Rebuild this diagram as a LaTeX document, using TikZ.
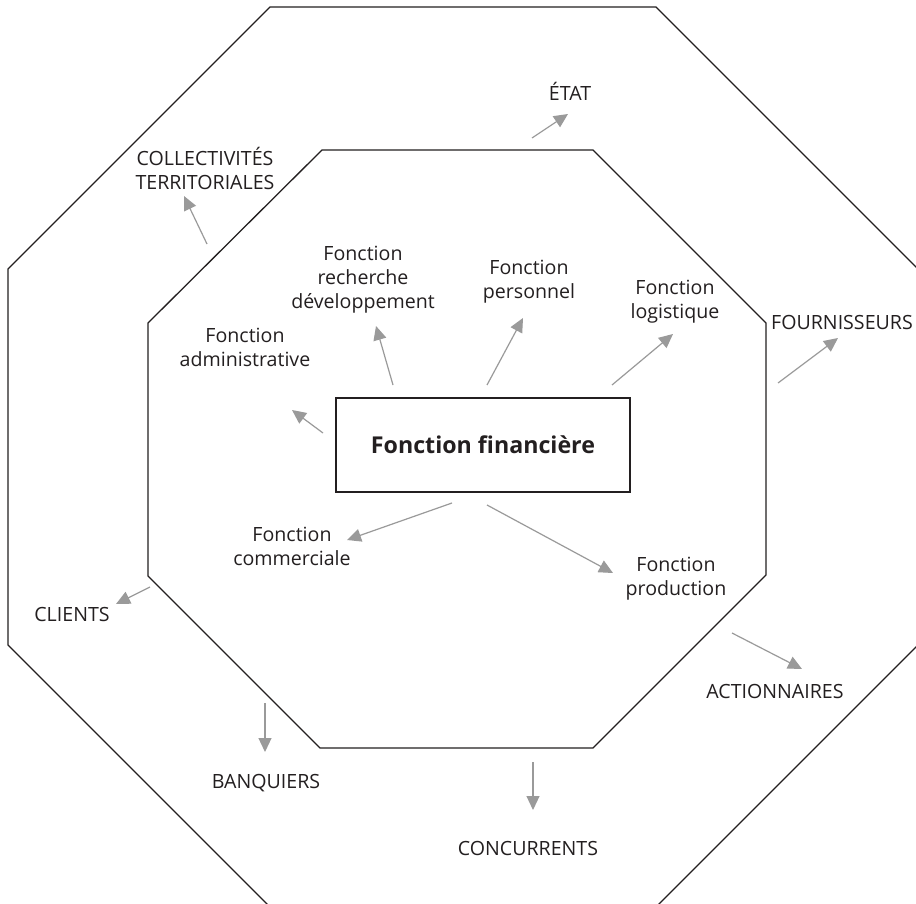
\documentclass[tikz,border=0pt]{standalone}
\usepackage{fontspec}
\setmainfont{Open Sans}
\usetikzlibrary{arrows.meta}
\definecolor{ink}{HTML}{231F20}
\definecolor{arrowgray}{HTML}{9A9A9A}
\begin{document}
\begin{tikzpicture}[x=0.5pt,y=-0.5pt,
  frame/.style={draw=ink, line width=0.65pt, line join=miter},
  flow/.style={draw=arrowgray, line width=0.6pt, -{Triangle[length=7pt,width=6.5pt]}},
  lbl/.style={text=ink, font=\fontsize{9.8}{12}\selectfont, align=center, inner sep=0pt},
  title/.style={draw=ink, line width=0.8pt, text=ink, font=\bfseries\fontsize{11.6}{14}\selectfont, minimum width=147pt, minimum height=47pt, inner sep=0pt}]
\useasboundingbox (0,0) rectangle (916,904);
\fill[white] (0,0) rectangle (916,904);
\begin{scope}
\clip (0,0) rectangle (916,904);
\draw[frame] (270,7) -- (656,7) -- (918,269) -- (918,645) -- (656,907) -- (270,907) -- (8,645) -- (8,269) -- cycle;
\end{scope}
\draw[frame] (322,150) -- (593,150) -- (766,323) -- (766,575) -- (593,748) -- (320,748) -- (148,576) -- (148,323) -- cycle;

\node[title] (fin) at (483,445) {Fonction financière};

% inner labels
\node[lbl] (adm) at (245,350) {Fonction\strut\\administrative\strut};
\node[lbl] (rech) at (363,280) {Fonction\strut\\recherche\strut\\développement\strut};
\node[lbl] (pers) at (529,282) {Fonction\strut\\personnel\strut};
\node[lbl] (logi) at (675,302) {Fonction\strut\\logistique\strut};
\node[lbl] (comm) at (292,549) {Fonction\strut\\commerciale\strut};
\node[lbl] (prod) at (676,579) {Fonction\strut\\production\strut};

% outer labels
\node[lbl] (etat) at (570,95) {ÉTAT\strut};
\node[lbl] (coll) at (205,172) {COLLECTIVITÉS\strut\\TERRITORIALES\strut};
\node[lbl] (four) at (842,325) {FOURNISSEURS\strut};
\node[lbl] (cli) at (72,617) {CLIENTS\strut};
\node[lbl] (banq) at (266,784) {BANQUIERS\strut};
\node[lbl] (conc) at (528,851) {CONCURRENTS\strut};
\node[lbl] (act) at (775,694) {ACTIONNAIRES\strut};

% arrow end points
\coordinate (admA) at (323,433);  \coordinate (admB) at (292,410);
\coordinate (rechA) at (393,385); \coordinate (rechB) at (376,326);
\coordinate (persA) at (487,385); \coordinate (persB) at (523,318);
\coordinate (logiA) at (612,385); \coordinate (logiB) at (673,334);
\coordinate (commA) at (452,503); \coordinate (commB) at (347,540);
\coordinate (prodA) at (487,505); \coordinate (prodB) at (613,573);
\coordinate (etatA) at (532,138); \coordinate (etatB) at (568,114);
\coordinate (collA) at (207,244); \coordinate (collB) at (184,196);
\coordinate (fourA) at (778,383); \coordinate (fourB) at (838,338);
\coordinate (cliA) at (150,587);  \coordinate (cliB) at (116,604);
\coordinate (banqA) at (265,703); \coordinate (banqB) at (265,752);
\coordinate (concA) at (533,762); \coordinate (concB) at (533,810);
\coordinate (actA) at (732,633);  \coordinate (actB) at (802,669);

\draw[flow] (admA) -- (admB);
\draw[flow] (rechA) -- (rechB);
\draw[flow] (persA) -- (persB);
\draw[flow] (logiA) -- (logiB);
\draw[flow] (commA) -- (commB);
\draw[flow] (prodA) -- (prodB);
\draw[flow] (etatA) -- (etatB);
\draw[flow] (collA) -- (collB);
\draw[flow] (fourA) -- (fourB);
\draw[flow] (cliA) -- (cliB);
\draw[flow] (banqA) -- (banqB);
\draw[flow] (concA) -- (concB);
\draw[flow] (actA) -- (actB);
\end{tikzpicture}
\end{document}
